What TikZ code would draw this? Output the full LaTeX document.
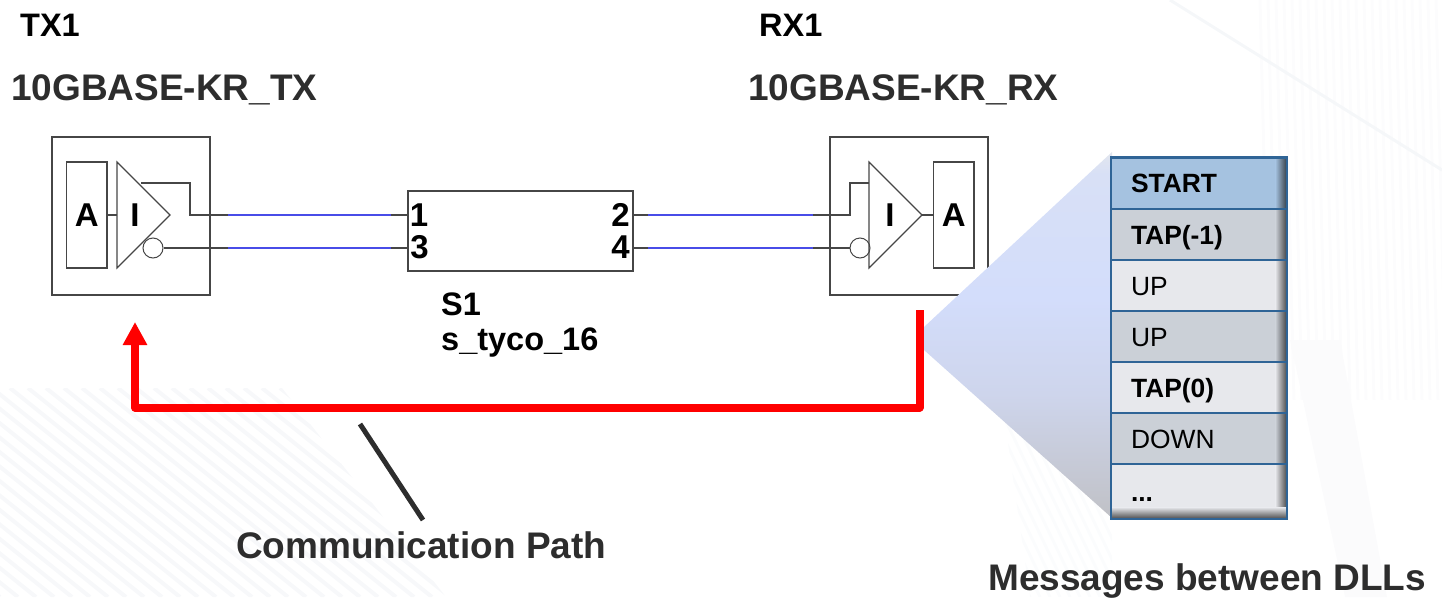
\documentclass[tikz,border=0pt]{standalone}
\usepackage{fontspec}
\setmainfont{Liberation Sans}
\usetikzlibrary{arrows.meta,positioning}
\definecolor{Wire}{RGB}{70,70,70}
\definecolor{Trace}{RGB}{72,76,232}
\definecolor{Ink}{RGB}{45,45,45}
\definecolor{Rule}{RGB}{47,100,150}
\definecolor{RowTop}{RGB}{165,194,224}
\definecolor{RowDark}{RGB}{203,208,215}
\definecolor{RowLight}{RGB}{231,232,236}
\definecolor{Hatch}{RGB}{241,243,246}
\definecolor{ConeA}{RGB}{192,193,198}
\definecolor{ConeB}{RGB}{206,213,236}
\definecolor{ConeC}{RGB}{211,221,251}
\definecolor{ConeD}{RGB}{216,224,246}
\definecolor{ConeE}{RGB}{226,230,238}
\pgfdeclareverticalshading{conefade}{100bp}{color(0bp)=(ConeA); color(25bp)=(ConeA); color(42bp)=(ConeB); color(55bp)=(ConeC); color(72bp)=(ConeD); color(75bp)=(ConeE); color(100bp)=(ConeE)}
\tikzset{
  box/.style={draw=Wire,line width=1.5pt,inner sep=0pt},
  wire/.style={draw=Wire,line width=1.6pt},
  trace/.style={draw=Trace,line width=2pt},
  bubble/.style={circle,draw=Wire,line width=1pt,inner sep=0pt,minimum size=20pt,fill=white},
  pin/.style={font=\fontsize{33}{33}\selectfont\bfseries,inner sep=0pt,anchor=base},
  title/.style={font=\fontsize{37}{37}\selectfont\bfseries,text=Ink,inner sep=0pt,anchor=base west},
  sub/.style={font=\fontsize{32.5}{32}\selectfont\bfseries,inner sep=0pt,anchor=base west},
  row/.style={draw=none,minimum width=176pt,minimum height=51pt,inner sep=0pt,inner xsep=20pt,text width=136pt,
    text height=19pt,text depth=0pt,align=left,font=\fontsize{26.4}{26}\selectfont},
}
\begin{document}
\begin{tikzpicture}[x=1pt,y=-1pt]
\useasboundingbox (0,0) rectangle (1442,597);
% faint backdrop
\begin{scope}
\clip (0,388) -- (282,388) -- (446,597) -- (0,597) -- cycle;
\foreach \k in {0,18,...,750}
  \draw[Hatch!60,line width=4pt] (\k-260,388) -- (\k,597);
\end{scope}
\begin{scope}
\clip (1000,388) -- (1112,388) -- (1112,597) -- (1030,597) -- cycle;
\foreach \k in {900,910,...,1300}
  \draw[Hatch!25,line width=3pt] (\k-100,388) -- (\k,597);
\end{scope}
\foreach \k in {1260,1268,...,1440}
  \draw[Hatch!22,line width=3pt] (\k,0) -- (\k+10,400);
\fill[Hatch!30] (1290,340) -- (1340,340) -- (1387,597) -- (1345,597) -- cycle;
\draw[Hatch!70,line width=3pt] (1170,0) -- (1442,170);
%
% titles
\node[sub] (txname) at (20,36.5) {TX1};
\node[title] (txmodel) at (11,100) {10GBASE-KR\_TX};
\node[sub] (rxname) at (759,36.5) {RX1};
\node[title] (rxmodel) at (748,100) {10GBASE-KR\_RX};
%
% transmitter
\node[box,minimum width=158pt,minimum height=158pt] (txbox) at (131,216) {};
\node[box,minimum width=40.5pt,minimum height=106pt,pin] (txA) at (86.75,215) {};
\node[pin] (txAlab) at (86.75,226) {A};
\coordinate (txtop) at (117,162);
\coordinate (txbot) at (117,268);
\coordinate (txtip) at (170,215);
\draw[wire,line width=1.2pt] (txtop) -- (txtip) -- (txbot) -- cycle;
\node[pin] (txIlab) at (135,226) {I};
\node[bubble] (txbub) at (153,248) {};
\draw[wire] (txA.east |- txtip) -- (txtop |- txtip);
\coordinate (txup) at (141,183);
\coordinate (txbendA) at (190,183);
\coordinate (txbendB) at (190,215);
\coordinate (txblueA) at (228,215);
\coordinate (txblueB) at (228,248);
\draw[wire] (txup) -- (txbendA) -- (txbendB) -- (txblueA);
\draw[wire] (txbub.east) -- (txblueB);
%
% channel
\node[box,minimum width=225pt,minimum height=80pt] (chan) at (520.5,231) {};
\node[pin] (pinA) at (419,226) {1};
\node[pin] (pinC) at (419.5,258.5) {3};
\node[pin] (pinB) at (620.5,226) {2};
\node[pin] (pinD) at (620.5,258.5) {4};
\node[sub] (chname) at (441,315) {S1};
\node[sub] (chmodel) at (441,350) {s\_tyco\_16};
\coordinate (chinA) at (408,215);
\coordinate (chinC) at (408,248);
\coordinate (choutB) at (633,215);
\coordinate (choutD) at (633,248);
\coordinate (leftA) at (391,215);
\coordinate (leftC) at (391,248);
\coordinate (rightB) at (648,215);
\coordinate (rightD) at (648,248);
\coordinate (rxblueA) at (813,215);
\coordinate (rxblueB) at (813,248);
\draw[trace] (txblueA) -- (leftA);
\draw[trace] (txblueB) -- (leftC);
\draw[trace] (rightB) -- (rxblueA);
\draw[trace] (rightD) -- (rxblueB);
\draw[wire] (leftA) -- (chinA);
\draw[wire] (leftC) -- (chinC);
\draw[wire] (choutB) -- (rightB);
\draw[wire] (choutD) -- (rightD);
%
% receiver
\node[box,minimum width=158pt,minimum height=158pt] (rxbox) at (909,216) {};
\node[box,minimum width=40.5pt,minimum height=106pt] (rxA) at (953.75,215) {};
\node[pin] (rxAlab) at (953.75,226) {A};
\coordinate (rxtop) at (869,162);
\coordinate (rxbot) at (869,268);
\coordinate (rxtip) at (922,215);
\node[pin] (rxIlab) at (890,226) {I};
\node[bubble] (rxbub) at (860,248) {};
\draw[wire,line width=1.2pt] (rxtop) -- (rxtip) -- (rxbot) -- cycle;
\draw[wire] (rxtip) -- (rxA.west |- rxtip);
\coordinate (rxup) at (869,183);
\coordinate (rxbendA) at (850,183);
\coordinate (rxbendB) at (850,215);
\draw[wire] (rxblueA) -- (rxbendB) -- (rxbendA) -- (rxup);
\draw[wire] (rxblueB) -- (rxbub.west);
%
% zoom cone and message table
\shade[shading=conefade] (1112,152) -- (924,327) -- (924,350) -- (1112,518) -- cycle;
\node[row,fill=RowTop] (msgA) at (1199,183) {\bfseries START};
\node[row,fill=RowDark] (msgB) at (1199,234.5) {\bfseries TAP(-1)};
\node[row,fill=RowLight] (msgC) at (1199,285.5) {UP};
\node[row,fill=RowDark] (msgD) at (1199,336.5) {UP};
\node[row,fill=RowLight] (msgE) at (1199,387.5) {\bfseries TAP(0)};
\node[row,fill=RowDark] (msgF) at (1199,438.5) {DOWN};
\node[row,fill=RowLight,minimum height=55pt] (msgG) at (1199,491.5) {\bfseries ...};
\foreach \msg/\col in {msgA/RowTop,msgB/RowDark,msgC/RowLight,msgD/RowDark,msgE/RowLight,msgF/RowDark,msgG/RowLight}
  \shade[left color=\col,right color=\col!30!black] ([xshift=-12pt]\msg.north east) rectangle (\msg.south east);
\shade[top color=RowLight,bottom color=RowLight!30!black] ([yshift=12pt]msgG.south west) rectangle (msgG.south east);
\foreach \msg in {msgA,msgB,msgC,msgD,msgE,msgF}
  \draw[Rule,line width=2.4pt] (\msg.south west) -- (\msg.south east);
\draw[Rule,line width=2.4pt] (msgA.north west) rectangle (msgG.south east);
%
% feedback path
\coordinate (rxfeed) at (919.5,310);
\coordinate (feedA) at (919.5,407.5);
\coordinate (feedB) at (135,407.5);
\coordinate (txfeed) at (135,322);
\draw[red,line width=8pt,line join=round,-{Triangle[width=23pt,length=23pt]}] (rxfeed) -- (feedA) -- (feedB) -- (txfeed);
%
\node[title] (pathlab) at (236,558) {Communication Path};
\coordinate (pathend) at (423,520);
\coordinate (pathtop) at (360,424);
\draw[Ink,line width=5pt] (pathtop) -- (pathend);
\node[title] (msglab) at (988,590) {Messages between DLLs};
\end{tikzpicture}
\end{document}
